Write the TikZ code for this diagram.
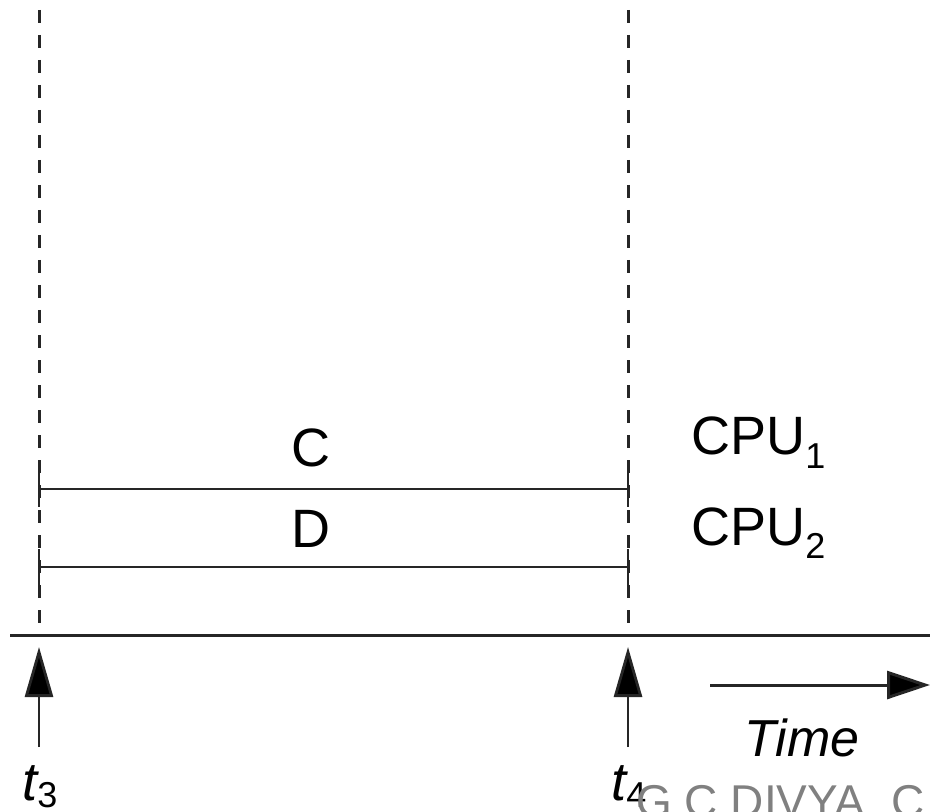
\documentclass[tikz,border=0pt]{standalone}
\usepackage{fontspec}
\setmainfont{Liberation Sans}
\usetikzlibrary{arrows.meta}
\begin{document}
\begin{tikzpicture}[x=0.5pt,y=-0.5pt,
  guide/.style={draw=black!85, line width=1.5pt, dash pattern=on 6.5pt off 6pt},
  bar/.style={draw=black!85, line width=1.1pt},
  axis/.style={draw=black!85, line width=1.5pt},
  uparrow/.style={draw=black!85, line width=1.4pt, -{Triangle[length=25pt,width=14pt,fill=black]}},
  lbl/.style={font=\fontsize{27}{30}\selectfont, inner sep=0pt},
  wm/.style={font=\fontsize{23}{26}\selectfont, text=black!50, inner sep=0pt, anchor=base west}]
\useasboundingbox (0,0) rectangle (930,812);
\clip (0,0) rectangle (930,812);
% coordinates
\coordinate (l0) at (39,10);  \coordinate (l1) at (39,635);
\coordinate (r0) at (628,10); \coordinate (r1) at (628,635);
\coordinate (ax0) at (10,635); \coordinate (ax1) at (930,635);
\coordinate (c0) at (39,489); \coordinate (c1) at (628,489);
\coordinate (d0) at (39,567); \coordinate (d1) at (628,567);
\coordinate (a3b) at (39,747); \coordinate (a3t) at (39,647);
\coordinate (a4b) at (628,747); \coordinate (a4t) at (628,647);
\coordinate (tm0) at (710,685); \coordinate (tm1) at (930,685);
% guides
\draw[guide] (l0) -- (l1);
\draw[guide] (r0) -- (r1);
% axis
\draw[axis] (ax0) -- (ax1);
% bars
\draw[bar] (c0) -- (c1);
\draw[bar] ([yshift=9]c0) -- ([yshift=-9]c0);
\draw[bar] ([yshift=9]c1) -- ([yshift=-9]c1);
\draw[bar] (d0) -- (d1);
\draw[bar] ([yshift=9]d0) -- ([yshift=-9]d0);
\draw[bar] ([yshift=9]d1) -- ([yshift=-9]d1);
% labels
\node[lbl, anchor=base] (C) at (311,466) {C};
\node[lbl, anchor=base] (D) at (311,547) {D};
\node[lbl, anchor=base west] (cpu1) at (691,454) {CPU\raisebox{-7pt}{\fontsize{18}{20}\selectfont 1}};
\node[lbl, anchor=base west] (cpu2) at (691,545) {CPU\raisebox{-6.5pt}{\fontsize{18}{20}\selectfont 2}};
% arrows
\draw[uparrow] (a3b) -- (a3t);
\draw[uparrow] (a4b) -- (a4t);
\draw[draw=black!85, line width=1.5pt, -{Triangle[length=21.5pt,width=14pt,fill=black]}] (tm0) -- (tm1);
\node[lbl, anchor=base west] (t3) at (22,800) {\itshape t\raisebox{-3.5pt}{\upshape\fontsize{18}{20}\selectfont 3}};
\node[lbl, anchor=base west] (t4) at (611,800) {\itshape t\raisebox{-3.5pt}{\upshape\fontsize{18}{20}\selectfont 4}};
\node[lbl, anchor=base, font=\fontsize{26}{29}\selectfont\itshape] (time) at (802,756) {Time};
% watermark
\node[wm] (wmk) at (636,817) {G C DIVYA. C};
\end{tikzpicture}
\end{document}
